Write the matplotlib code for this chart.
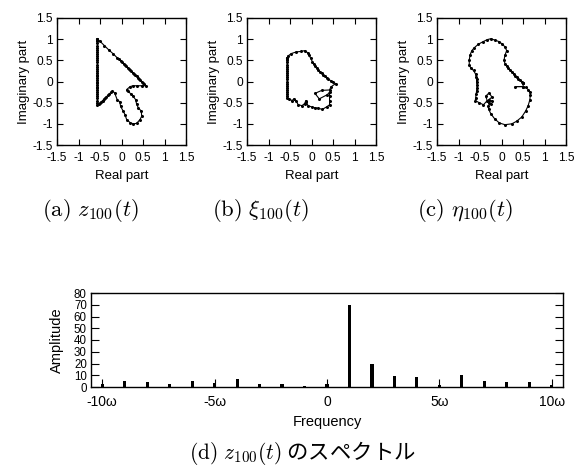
import matplotlib
matplotlib.use("Agg")
import matplotlib.pyplot as plt

plt.rcParams['axes.unicode_minus'] = False
plt.rcParams['font.family'] = ['Liberation Sans', 'DejaVu Sans']
plt.rcParams['mathtext.fontset'] = 'cm'

# ---- curve data ----
z_re = [-0.56, -0.56, -0.56, -0.56, -0.56, -0.56, -0.56, -0.56, -0.56, -0.56, -0.56, -0.56,
        -0.56, -0.56, -0.56, -0.56, -0.56, -0.56, -0.56, -0.56, -0.56, -0.56, -0.56, -0.56,
        -0.56, -0.56, -0.56, -0.56, -0.56, -0.56, -0.56, -0.56, -0.56, -0.56,
        -0.53, -0.50, -0.47, -0.44, -0.41, -0.38, -0.35, -0.32, -0.28, -0.24, -0.21,
        -0.16, -0.10, -0.04, -0.02, 0.04, 0.08, 0.12, 0.20, 0.27, 0.35, 0.43, 0.47,
        0.46, 0.39, 0.35, 0.33, 0.27, 0.22, 0.16, 0.12, 0.20, 0.27, 0.37, 0.47, 0.57,
        0.53, 0.50, 0.47, 0.44, 0.41, 0.38, 0.35, 0.32, 0.29, 0.26, 0.23, 0.20, 0.17,
        0.14, 0.11, 0.08, 0.05, 0.02, -0.01, -0.05, -0.10, -0.20, -0.30, -0.40, -0.50, -0.56]
z_im = [1.00, 0.95, 0.90, 0.85, 0.80, 0.75, 0.70, 0.65, 0.60, 0.55, 0.50, 0.45,
        0.40, 0.35, 0.30, 0.24, 0.20, 0.16, 0.12, 0.08, 0.04, 0.00, -0.04, -0.08,
        -0.12, -0.16, -0.20, -0.25, -0.30, -0.35, -0.40, -0.45, -0.50, -0.56,
        -0.54, -0.51, -0.48, -0.45, -0.42, -0.39, -0.36, -0.33, -0.29, -0.25, -0.22,
        -0.27, -0.43, -0.48, -0.59, -0.70, -0.78, -0.90, -0.97, -1.00, -0.99, -0.90, -0.82,
        -0.70, -0.62, -0.53, -0.43, -0.35, -0.30, -0.23, -0.19, -0.12, -0.10, -0.10, -0.10, -0.10,
        -0.06, -0.03, 0.00, 0.03, 0.06, 0.09, 0.12, 0.15, 0.18, 0.21, 0.24, 0.27, 0.30,
        0.33, 0.36, 0.39, 0.42, 0.45, 0.48, 0.52, 0.56, 0.66, 0.75, 0.85, 0.95, 1.00]

xi_re = [-0.565, -0.565, -0.565, -0.565, -0.565, -0.565, -0.565, -0.565, -0.565, -0.565,
         -0.565, -0.565, -0.565, -0.565, -0.565, -0.565, -0.565, -0.565, -0.565, -0.565,
         -0.53, -0.45, -0.41, -0.35, -0.31, -0.22, -0.16, -0.13, -0.12, -0.08, 0.00,
         0.08, 0.16, 0.25, 0.35, 0.42, 0.42, 0.42, 0.42, 0.37, 0.18, 0.08, 0.24, 0.42,
         0.45, 0.56, 0.51, 0.45, 0.39, 0.35, 0.31, 0.27, 0.24, 0.20, 0.16, 0.12, 0.08,
         0.05, 0.02, -0.02, -0.06, -0.09, -0.16, -0.24, -0.35, -0.47, -0.55, -0.565]
xi_im = [0.55, 0.50, 0.45, 0.40, 0.35, 0.30, 0.25, 0.20, 0.15, 0.10,
         0.05, 0.00, -0.05, -0.10, -0.15, -0.20, -0.25, -0.30, -0.35, -0.38,
         -0.41, -0.45, -0.41, -0.47, -0.55, -0.57, -0.52, -0.45, -0.49, -0.57, -0.60,
         -0.62, -0.63, -0.66, -0.60, -0.55, -0.45, -0.35, -0.25, -0.31, -0.41, -0.28, -0.21, -0.20,
         -0.13, -0.05, -0.02, 0.02, 0.05, 0.09, 0.12, 0.16, 0.20, 0.23, 0.27, 0.31, 0.37,
         0.42, 0.47, 0.55, 0.63, 0.68, 0.73, 0.71, 0.70, 0.66, 0.60, 0.55]

eta_re = [0.51, 0.47, 0.43, 0.39, 0.35, 0.31, 0.28, 0.24, 0.20, 0.16, 0.12, 0.08, 0.06,
          0.08, 0.12, 0.08, 0.02, -0.05, -0.16, -0.25, -0.33, -0.43, -0.54, -0.63, -0.69,
          -0.73, -0.75, -0.75, -0.71, -0.65, -0.60, -0.59, -0.58, -0.58, -0.57, -0.57, -0.58,
          -0.59, -0.60, -0.61, -0.52, -0.42, -0.33, -0.37, -0.29, -0.22, -0.30, -0.22, -0.30,
          -0.24, -0.31, -0.30, -0.25, -0.16, -0.05, 0.08, 0.24, 0.35, 0.47, 0.56, 0.62, 0.66,
          0.67, 0.66, 0.62, 0.56, 0.50, 0.32, 0.50, 0.51]
eta_im = [-0.04, -0.01, 0.03, 0.06, 0.10, 0.14, 0.18, 0.22, 0.26, 0.31, 0.36, 0.42, 0.51,
          0.62, 0.73, 0.82, 0.88, 0.94, 0.98, 1.01, 0.99, 0.94, 0.88, 0.80, 0.73,
          0.63, 0.51, 0.39, 0.31, 0.26, 0.17, 0.10, 0.05, -0.02, -0.08, -0.15, -0.23,
          -0.30, -0.38, -0.45, -0.50, -0.55, -0.45, -0.35, -0.27, -0.37, -0.43, -0.46, -0.50,
          -0.53, -0.57, -0.65, -0.76, -0.88, -0.98, -1.02, -1.00, -0.94, -0.84, -0.70, -0.57, -0.43,
          -0.31, -0.25, -0.19, -0.14, -0.12, -0.12, -0.12, -0.04]

# ---- spectrum data ----
freqs = [-10, -9, -8, -7, -6, -5, -4, -3, -2, -1, 0, 1, 2, 3, 4, 5, 6, 7, 8, 9, 10]
amps = [2.3, 4.8, 4.0, 2.3, 4.8, 3.0, 6.8, 2.3, 2.3, 1.0, 2.5, 70, 20, 9, 8.2, 2.0, 10.4, 5.4, 4.2, 4.2, 2.0]
freq_ticks = [-10, -5, 0, 5, 10]
freq_labels = ['-10\u03c9', '-5\u03c9', '0', '5\u03c9', '10\u03c9']
amp_ticks = [0, 10, 20, 30, 40, 50, 60, 70, 80]
cplx_ticks = [-1.5, -1, -0.5, 0, 0.5, 1, 1.5]
cplx_labels = ['-1.5', '-1', '-0.5', '0', '0.5', '1', '1.5']

captions = [r'$\mathrm{(a)}\ z_{100}(t)$', r'$\mathrm{(b)}\ \xi_{100}(t)$', r'$\mathrm{(c)}\ \eta_{100}(t)$']
caption_x = [90, 261, 465]

W, H = 579, 468
fig = plt.figure(figsize=(W / 100, H / 100), dpi=100)

def px_axes(l, t, r, b):
    return fig.add_axes([l / W, 1 - b / H, (r - l) / W, (b - t) / H])

curves = [(z_re, z_im), (xi_re, xi_im), (eta_re, eta_im)]
for i, (re, im) in enumerate(curves):
    off = 190 * i
    ax = px_axes(57 + off, 18, 186 + off, 145)
    ax.plot(re + [re[0]], im + [im[0]], color='black', lw=0.8, marker='o', ms=1.2,
            mec='black', mfc='black')
    ax.set_xlim(-1.5, 1.5)
    ax.set_ylim(-1.5, 1.5)
    ax.set_xticks(cplx_ticks)
    ax.set_xticklabels(cplx_labels)
    ax.set_yticks(cplx_ticks)
    ax.set_yticklabels(cplx_labels)
    ax.tick_params(direction='in', top=True, right=True, length=4, width=0.8,
                   labelsize=8.6, pad=3, colors='black')
    ax.tick_params(axis='x', pad=5)
    for s in ax.spines.values():
        s.set_linewidth(1.0)
    ax.set_xlabel('Real part', fontsize=9.5, labelpad=4)
    ax.set_ylabel('Imaginary part', fontsize=9.5, labelpad=2)
    fig.text(caption_x[i] / W, 1 - 211 / H, captions[i], fontsize=16.3,
             ha='center', va='center')

axs = px_axes(91, 293, 563, 387)
axs.bar(freqs, amps, width=0.14, color='black')
axs.set_xlim(-10.5, 10.5)
axs.set_ylim(0, 80)
axs.set_xticks(freq_ticks)
axs.set_xticklabels(freq_labels)
axs.set_yticks(amp_ticks)
axs.tick_params(direction='in', right=True, length=6, width=0.8, labelsize=10,
                pad=3, colors='black')
axs.tick_params(axis='y', labelsize=8.3)
axs.tick_params(axis='x', pad=6)
for s in axs.spines.values():
    s.set_linewidth(1.0)
axs.set_xlabel('Frequency', fontsize=10.5, labelpad=4)
axs.set_ylabel('Amplitude', fontsize=10.5, labelpad=7)

fig.text(302 / W, 1 - 453 / H, r'$\mathrm{(d)}\ z_{100}(t)$ のスペクトル', fontsize=15.4,
         ha='center', va='center', family=['Noto Sans CJK JP', 'DejaVu Sans'])

fig.savefig('out.png', dpi=100)
